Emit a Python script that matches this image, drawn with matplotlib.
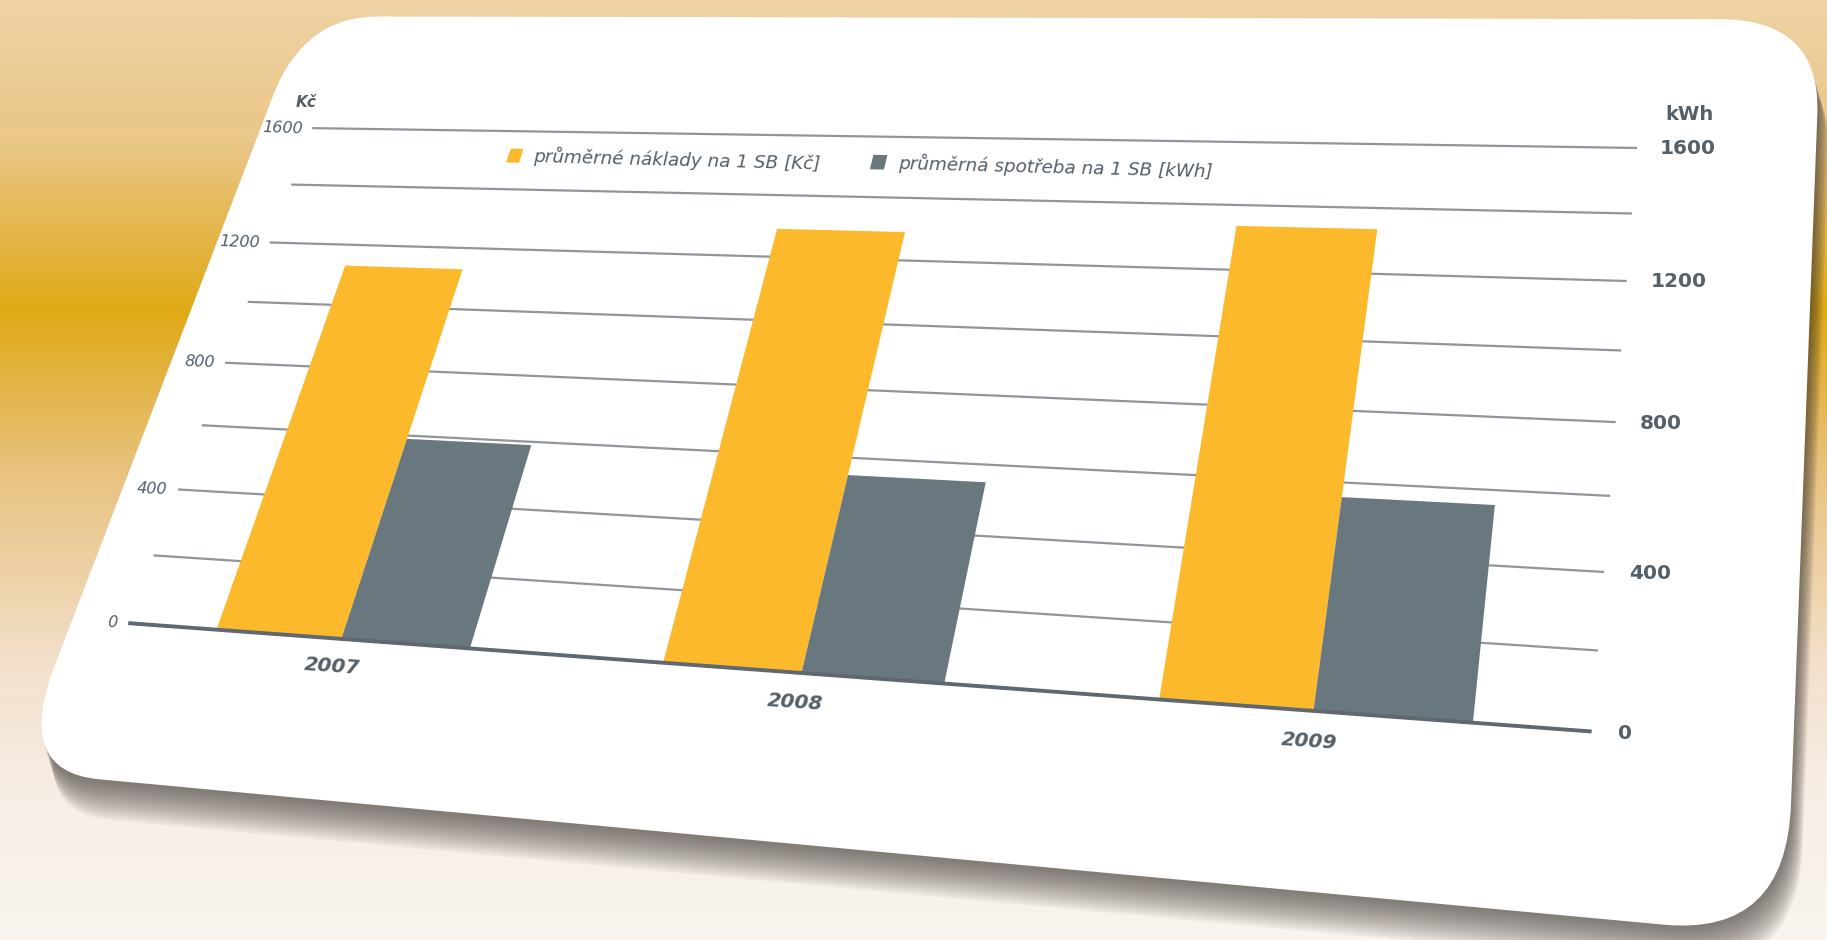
import numpy as np
import matplotlib
matplotlib.use("Agg")
import matplotlib.pyplot as plt
import matplotlib.transforms as mtransforms
from matplotlib.colors import to_rgb
from matplotlib.patches import FancyBboxPatch, Rectangle

# data
years = ['2007', '2008', '2009']
costs = [1130, 1290, 1335]        # průměrné náklady na 1 SB [Kč]
consumption = [590, 550, 560]     # průměrná spotřeba na 1 SB [kWh]
legend_labels = ['průměrné náklady na 1 SB [Kč]', 'průměrná spotřeba na 1 SB [kWh]']
left_ticks = [0, 400, 800, 1200, 1600]
right_ticks = [0, 400, 800, 1200, 1600]
grid_ticks = [0, 200, 400, 600, 800, 1000, 1200, 1400, 1600]

orange = '#FDB92C'
slate = '#68787E'
text_col = '#535f69'

# where the corners of the plot area sit in the tilted picture (figure fractions)
plot_corners = [(0.0702, 0.3371), (0.8712, 0.2218), (0.8960, 0.8426), (0.1709, 0.8637)]


def homography(dst):
    src = [(0, 0), (1, 0), (1, 1), (0, 1)]
    A, b = [], []
    for (x, y), (X, Y) in zip(src, dst):
        A.append([x, y, 1, 0, 0, 0, -X * x, -X * y]); b.append(X)
        A.append([0, 0, 0, x, y, 1, -Y * x, -Y * y]); b.append(Y)
    h = np.linalg.solve(np.array(A, float), np.array(b, float))
    return np.append(h, 1).reshape(3, 3)


class Tilt(mtransforms.Transform):
    input_dims = output_dims = 2
    is_separable = False
    has_inverse = False

    def __init__(self, m):
        super().__init__()
        self.m = m

    def transform_non_affine(self, values):
        v = np.asarray(values, float)
        pts = v.reshape(-1, 2)
        p = np.column_stack([pts, np.ones(len(pts))]) @ self.m.T
        return (p[:, :2] / p[:, 2:]).reshape(v.shape)


fig = plt.figure(figsize=(18.27, 9.40), dpi=100)

# background
bg = fig.add_axes([0, 0, 1, 1])
stops = [0.0, 0.15, 0.33, 0.5, 0.7, 0.85, 1.0]
cols = np.array([to_rgb(c) for c in ['#EFD3A5', '#EAC688', '#E0A915', '#E8C27F',
                                     '#F2DFC8', '#F7EFE7', '#F9F4EF']])
yy = np.linspace(0, 1, 300)
grad = np.stack([np.interp(yy, stops, cols[:, i]) for i in range(3)], axis=1)
img = np.repeat(grad[:, None, :], 10, axis=1)
bg.imshow(img, extent=[0, 1, 0, 1], aspect='auto', origin='upper')
bg.set_axis_off()

ax = fig.add_axes([0, 0, 1, 1], zorder=2)
ax.set_autoscale_on(False)
ax.set_xlim(-0.5, 2.5)
ax.set_ylim(0, 1600)
ax.set_axis_off()

warp = ax.transScale + ax.transLimits + Tilt(homography(plot_corners)) + fig.transFigure

# card with soft shadow
card_x0, card_x1, card_y0, card_y1 = -0.635, 2.845, -434, 2011
for k in range(18):
    off = mtransforms.ScaledTranslation(0.007 * k, -0.024 * k, fig.dpi_scale_trans)
    sh = FancyBboxPatch((card_x0, card_y0), card_x1 - card_x0, card_y1 - card_y0,
                        boxstyle="round,pad=0,rounding_size=0.2", mutation_aspect=1490,
                        fc='#3a3530', ec='none', alpha=0.05, transform=warp + off,
                        zorder=0, clip_on=False)
    ax.add_patch(sh)
card = FancyBboxPatch((card_x0, card_y0), card_x1 - card_x0, card_y1 - card_y0,
                      boxstyle="round,pad=0,rounding_size=0.2", mutation_aspect=1490,
                      fc='white', ec='none', transform=warp, zorder=1, clip_on=False)
ax.add_patch(card)

# grid
ax.hlines(grid_ticks[1:], -0.5, 2.5, colors='#8f959a', lw=1.6, transform=warp, zorder=2, clip_on=False)

# bars
x = np.arange(len(years))
w = 0.29
ax.bar(x - w / 2, costs, w, color=orange, transform=warp, zorder=3, clip_on=False)
ax.bar(x + w / 2, consumption, w, color=slate, transform=warp, zorder=3, clip_on=False)
ax.hlines([0], -0.5, 2.5, colors='#5f6870', lw=2.8, transform=warp, zorder=4, clip_on=False)

# tick labels
for t in left_ticks:
    ax.text(-0.525, t, str(t), ha='right', va='center', fontsize=11.5, style='italic',
            color=text_col, rotation=-2, transform=warp, zorder=5)
for t in right_ticks:
    ax.text(2.545, t, str(t), ha='left', va='center', fontsize=14.5, fontweight='bold',
            color=text_col, transform=warp, zorder=5)
ax.text(-0.54, 1690, 'Kč', ha='center', va='center', fontsize=11, style='italic',
        fontweight='bold', color=text_col, transform=warp, zorder=5)
ax.text(2.55, 1705, 'kWh', ha='left', va='center', fontsize=14, fontweight='bold',
        color=text_col, transform=warp, zorder=5)
for xi, yr in zip(x, years):
    ax.text(xi, -77, yr, ha='center', va='center', fontsize=14.5, style='italic',
            fontweight='bold', color=text_col, rotation=-4, rotation_mode='anchor',
            transform=warp, zorder=5)

# legend
for lx, col, lab in zip([0.037, 0.903], [orange, slate], legend_labels):
    ax.add_patch(Rectangle((lx - 0.016, 1515 - 24), 0.032, 48, fc=col, ec='none',
                           transform=warp, zorder=5, clip_on=False))
    ax.text(lx + 0.045, 1515, lab, ha='left', va='center', fontsize=13.2, style='italic',
            fontweight='medium', color=text_col, rotation=-1.5, rotation_mode='anchor',
            transform=warp, zorder=5)

fig.savefig('out.png', dpi=100)
